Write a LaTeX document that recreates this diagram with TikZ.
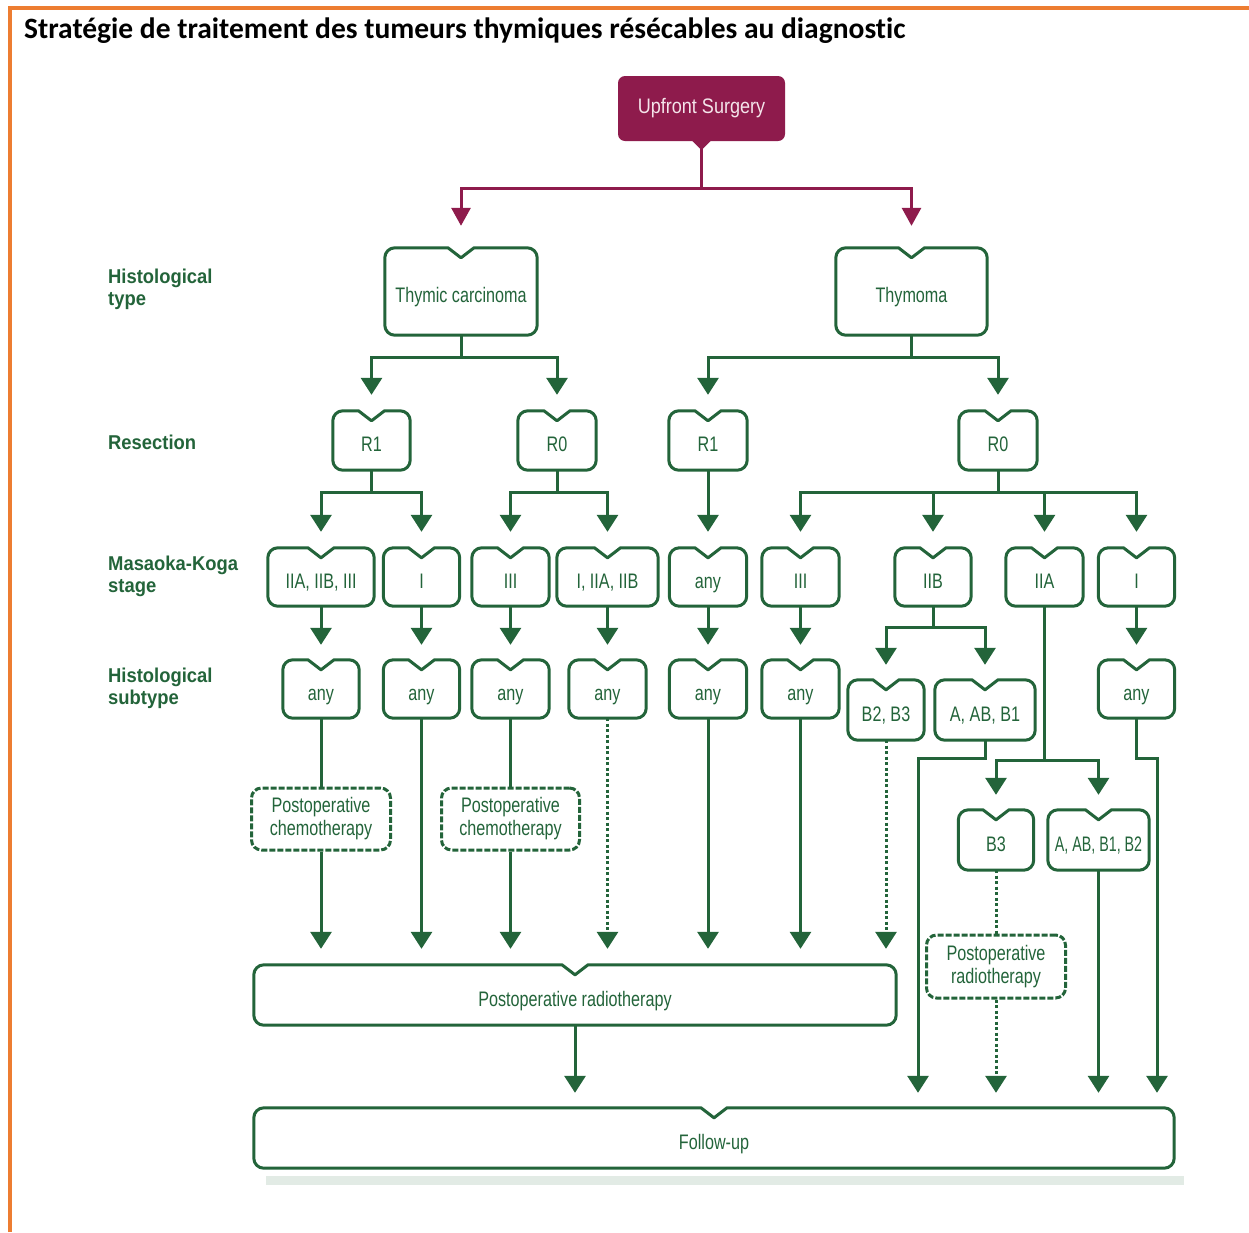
\documentclass[tikz,border=0pt]{standalone}
\usepackage{fontspec}
\setmainfont{Liberation Sans}
\newfontfamily\cond[FakeStretch=0.77]{Liberation Sans}
\newfontfamily\condx[FakeStretch=0.68]{Liberation Sans}
\newfontfamily\condw[FakeStretch=0.86]{Liberation Sans}
\newfontfamily\condb[FakeStretch=0.92]{Liberation Sans}
\newfontfamily\titlefont[Ligatures=NoCommon]{Carlito}
\usetikzlibrary{arrows.meta}
\definecolor{gr}{HTML}{23643A}
\definecolor{mar}{HTML}{8E1B4C}
\definecolor{org}{HTML}{ED7D31}
\definecolor{pinkw}{HTML}{F4E4EA}
\tikzset{
  base/.style={rectangle, inner sep=0pt, align=center, text=gr,
    font=\cond\fontsize{21}{23}\selectfont},
  gn/.style={base, minimum width=77pt, minimum height=58pt, text height=22pt, text depth=0pt},
  gbox/.style={draw=gr, line width=3pt, line join=round},
  dbox/.style={base, draw=gr, line width=3pt, rounded corners=10pt,
    dash pattern=on 6pt off 2pt, minimum width=138pt, minimum height=62pt},
  gline/.style={draw=gr, line width=3pt},
  gdot/.style={draw=gr, line width=3pt, dash pattern=on 3pt off 2.5pt},
  garrow/.style={-{Triangle[width=21pt,length=17pt]}, shorten >=16pt},
  mline/.style={draw=mar, line width=3pt},
  marrow/.style={mline, -{Triangle[width=19pt,length=18pt]}, shorten >=22pt},
  lab/.style={anchor=west, align=left, text=gr, inner sep=0pt,
    font=\condb\bfseries\fontsize{20}{22}\selectfont},
}
\newcommand\notchbox[1]{%
  \draw[gbox] ([xshift=-13pt]#1.north) -- ([yshift=-10pt]#1.north) -- ([xshift=13pt]#1.north)
   -- ([xshift=-10pt]#1.north east) arc[start angle=90,end angle=0,radius=10pt]
   -- ([yshift=10pt]#1.south east) arc[start angle=0,end angle=-90,radius=10pt]
   -- ([xshift=10pt]#1.south west) arc[start angle=270,end angle=180,radius=10pt]
   -- ([yshift=-10pt]#1.north west) arc[start angle=180,end angle=90,radius=10pt]
   -- cycle;}
\begin{document}
\begin{tikzpicture}[x=1pt,y=1pt]
\useasboundingbox (0,0) rectangle (1249,-1232);
\fill[white] (0,0) rectangle (1249,-1232);
\draw[org, line width=4pt] (10,-1232) -- (10,-8) -- (1249,-8);
\node[anchor=west, inner sep=0pt, font=\titlefont\bfseries\fontsize{29.5}{32}\selectfont] (title) at (24,-31)
  {Stratégie de traitement des tumeurs thymiques résécables au diagnostic};

% left labels
\node[lab] (l1) at (108,-289) {Histological\\type};
\node[lab] (l2) at (108,-442) {Resection};
\node[lab] (l3) at (108,-576) {Masaoka-Koga\\stage};
\node[lab] (l4) at (108,-688) {Histological\\subtype};

% top node
\node[rectangle, rounded corners=7pt, fill=mar, minimum width=167pt, minimum height=65pt,
  text=pinkw, font=\condw\fontsize{21}{23}\selectfont] (surg) at (701.5,-108.5) {Upfront Surgery};
\fill[mar] ([xshift=-10pt,yshift=1pt]surg.south) -- ([yshift=-9pt]surg.south) -- ([xshift=10pt,yshift=1pt]surg.south) -- cycle;

% histological type
\node[gn, minimum width=152pt, minimum height=87pt] (tc) at (461,-291.5) {Thymic carcinoma};
\node[gn, minimum width=151pt, minimum height=87pt] (thy) at (911.5,-291.5) {Thymoma};
% resection
\node[gn, minimum height=59pt] (r1a) at (371.5,-440.5) {R1};
\node[gn, minimum height=59pt, minimum width=78pt] (r0a) at (557,-440.5) {R0};
\node[gn, minimum height=59pt, minimum width=78pt] (r1b) at (708,-440.5) {R1};
\node[gn, minimum height=59pt, minimum width=78pt] (r0b) at (998,-440.5) {R0};
% stage
\node[gn, minimum width=106pt] (s1) at (321,-577) {IIA, IIB, III};
\node[gn, minimum width=76pt] (s2) at (421.5,-577) {I};
\node[gn] (s3) at (510.5,-577) {III};
\node[gn, minimum width=101pt] (s4) at (607.5,-577) {I, IIA, IIB};
\node[gn] (s5) at (708,-577) {any};
\node[gn] (s6) at (800.5,-577) {III};
\node[gn, minimum width=76pt] (s7) at (933,-577) {IIB};
\node[gn] (s8) at (1044.5,-577) {IIA};
\node[gn, minimum width=76pt] (s9) at (1136.5,-577) {I};
% subtype
\node[gn, minimum width=76pt] (h1) at (321,-689) {any};
\node[gn, minimum width=76pt] (h2) at (421.5,-689) {any};
\node[gn] (h3) at (510.5,-689) {any};
\node[gn] (h4) at (607.5,-689) {any};
\node[gn] (h5) at (708,-689) {any};
\node[gn] (h6) at (800.5,-689) {any};
\node[gn, minimum width=76pt] (h9) at (1136.5,-689) {any};
\node[gn, minimum width=76pt, minimum height=60pt] (h7a) at (886,-710) {B2, B3};
\node[gn, minimum width=100pt, minimum height=60pt] (h7b) at (985,-710) {A, AB, B1};
\node[gn, minimum width=75pt, minimum height=60pt] (h8a) at (996,-840) {B3};
\node[gn, minimum width=101pt, minimum height=60pt, font=\condx\fontsize{21}{23}\selectfont] (h8b) at (1098.5,-840) {A, AB, B1, B2};
% treatments
\node[dbox, minimum width=139pt] (c1) at (321,-819) {Postoperative\\chemotherapy};
\node[dbox] (c2) at (510.5,-819) {Postoperative\\chemotherapy};
\node[dbox, minimum width=139pt, minimum height=63pt] (rt2) at (996,-966.5) {Postoperative\\radiotherapy};
\fill[gr!13] (266,-1176) rectangle (1184,-1185);
\node[gn, minimum width=642pt, minimum height=60pt] (rt1) at (575,-995) {Postoperative radiotherapy};
\node[gn, minimum width=920pt, minimum height=60pt, fill=white] (fu) at (714,-1138) {Follow-up};

\foreach \n in {tc,thy,r1a,r0a,r1b,r0b,s1,s2,s3,s4,s5,s6,s7,s8,s9,h1,h2,h3,h4,h5,h6,h9,h7a,h7b,h8a,h8b,rt1,fu}
  {\notchbox{\n}}

% maroon connectors
\coordinate (sj) at (701.5,-188);
\draw[mline] (surg.south) -- (sj);
\draw[marrow] (sj) -| (tc.north);
\draw[marrow] (sj) -| (thy.north);

% histological type -> resection
\coordinate (tcb) at (461,-357);
\coordinate (thb) at (911.5,-357);
\draw[gline] (tc.south) -- (tcb);
\draw[gline, garrow] (tcb) -| (r1a.north);
\draw[gline, garrow] (tcb) -| (r0a.north);
\draw[gline] (thy.south) -- (thb);
\draw[gline, garrow] (thb) -| (r1b.north);
\draw[gline, garrow] (thb) -| (r0b.north);

% resection -> stage
\coordinate (r1ab) at (371.5,-492);
\coordinate (r0ab) at (557,-492);
\coordinate (r0bb) at (998,-492);
\draw[gline] (r1a.south) -- (r1ab);
\draw[gline, garrow] (r1ab) -| (s1.north);
\draw[gline, garrow] (r1ab) -| (s2.north);
\draw[gline] (r0a.south) -- (r0ab);
\draw[gline, garrow] (r0ab) -| (s3.north);
\draw[gline, garrow] (r0ab) -| (s4.north);
\draw[gline, garrow] (r1b.south) -- (s5.north);
\draw[gline] (r0b.south) -- (r0bb);
\draw[gline, garrow] (r0bb) -| (s6.north);
\draw[gline, garrow] (r0bb) -| (s7.north);
\draw[gline, garrow] (r0bb) -| (s8.north);
\draw[gline, garrow] (r0bb) -| (s9.north);

% stage -> subtype
\foreach \a/\b in {s1/h1,s2/h2,s3/h3,s4/h4,s5/h5,s6/h6,s9/h9}
  {\draw[gline, garrow, shorten >=15pt] (\a.south) -- (\b.north);}
\coordinate (s7b) at (933,-627);
\draw[gline] (s7.south) -- (s7b);
\draw[gline, garrow, shorten >=15pt] (s7b) -| (h7a.north);
\draw[gline, garrow, shorten >=15pt] (s7b) -| (h7b.north);
\coordinate (s8b) at (1044.5,-760);
\draw[gline] (s8.south) -- (s8b);
\draw[gline, garrow, shorten >=15pt] (s8b) -| (h8a.north);
\draw[gline, garrow, shorten >=15pt] (s8b) -| (h8b.north);

% subtype -> treatment
\draw[gline] (h1.south) -- (c1.north);
\draw[gline, garrow] (c1.south) -- (c1.south |- rt1.north);
\draw[gline, garrow] (h2.south) -- (h2.south |- rt1.north);
\draw[gline] (h3.south) -- (c2.north);
\draw[gline, garrow] (c2.south) -- (c2.south |- rt1.north);
\draw[gdot, garrow] (h4.south) -- (h4.south |- rt1.north);
\draw[gline, garrow] (h5.south) -- (h5.south |- rt1.north);
\draw[gline, garrow] (h6.south) -- (h6.south |- rt1.north);
\draw[gdot, garrow] (h7a.south) -- (h7a.south |- rt1.north);
\coordinate (h7bk) at (985,-758);
\coordinate (h7bl) at (918,-758);
\draw[gline, garrow, shorten >=15pt] (h7b.south) -- (h7bk) -- (h7bl) -- (h7bl |- fu.north);
\draw[gdot] (h8a.south) -- (rt2.north);
\draw[gdot, garrow, shorten >=15pt] (rt2.south) -- (rt2.south |- fu.north);
\draw[gline, garrow, shorten >=15pt] (h8b.south) -- (h8b.south |- fu.north);
\coordinate (h9k) at (1136.5,-758);
\coordinate (h9l) at (1157,-758);
\draw[gline, garrow, shorten >=15pt] (h9.south) -- (h9k) -- (h9l) -- (h9l |- fu.north);
\draw[gline, garrow, shorten >=15pt] (rt1.south) -- (rt1.south |- fu.north);
\end{tikzpicture}
\end{document}
